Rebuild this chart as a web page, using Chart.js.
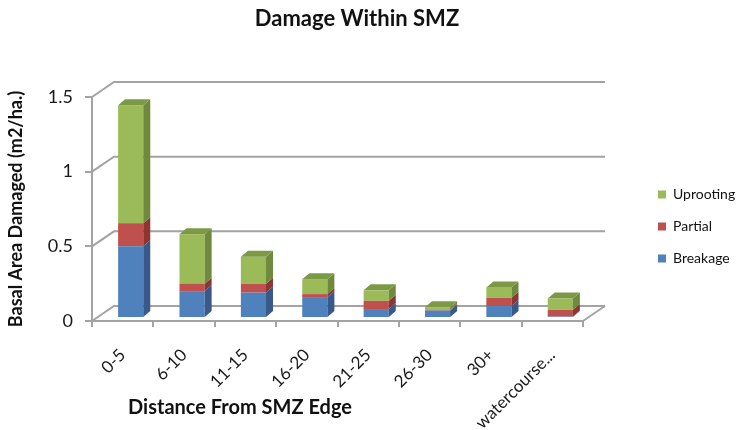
<!DOCTYPE html>
<html>
<head>
<meta charset="utf-8">
<script src="https://cdn.jsdelivr.net/npm/chart.js@4"></script>
<style>
  html, body { margin: 0; padding: 0; background: #fff; }
</style>
</head>
<body>
<canvas id="damageChart" width="740" height="430"></canvas>
<script>
const categories = ['0-5', '6-10', '11-15', '16-20', '21-25', '26-30', '30+', 'watercourse...'];
const breakage = [0.48, 0.18, 0.17, 0.14, 0.06, 0.05, 0.08, 0.01];
const partial = [0.155, 0.05, 0.06, 0.02, 0.055, 0.004, 0.055, 0.045];
const uprooting = [0.79, 0.33, 0.18, 0.10, 0.07, 0.018, 0.07, 0.075];
const yTicks = [0, 0.5, 1, 1.5];

const GRID = '#a3a3a3';
const FONT = 'Lato';
const wallDepth = { x: 22, y: -15 };
const barShift = { x: 8, y: -3 };
const barDepth = { x: 7, y: -6 };
const sideColors = ['#38598a', '#8d3533', '#6f8a3c'];
const topColors = ['#4672a6', '#a64543', '#7c9a45'];

// fake 3D look: walls behind, depth faces on the bars
const bar3d = {
    id: 'bar3d',
    afterLayout(chart) {
        const lg = chart.legend;
        if (!lg) return;
        lg.left = 640;
        lg.right = 740;
        lg.top = 169.5;
        lg.bottom = 430;
    },
    beforeDatasetsDraw(chart) {
        const { ctx, chartArea: a, scales: { y } } = chart;
        ctx.save();
        ctx.strokeStyle = GRID;
        ctx.lineWidth = 2;
        ctx.beginPath();
        yTicks.forEach(v => {
            const py = y.getPixelForValue(v);
            ctx.moveTo(a.left, py);
            ctx.lineTo(a.left + wallDepth.x, py + wallDepth.y);
            ctx.lineTo(a.right + wallDepth.x, py + wallDepth.y);
        });
        const p0 = y.getPixelForValue(0);
        ctx.moveTo(a.right, p0);
        ctx.lineTo(a.right + wallDepth.x, p0 + wallDepth.y);
        ctx.stroke();
        ctx.restore();

        ctx.save();
        ctx.translate(barShift.x, barShift.y);
    },
    afterDatasetsDraw(chart) {
        const ctx = chart.ctx;
        const last = chart.data.datasets.length - 1;
        chart.data.datasets.forEach((ds, i) => {
            const meta = chart.getDatasetMeta(i);
            meta.data.forEach(bar => {
                const { x, y, base, width } = bar.getProps(['x', 'y', 'base', 'width'], true);
                if (Math.abs(base - y) < 0.3) return;
                const l = x - width / 2;
                const r = x + width / 2;
                ctx.fillStyle = sideColors[i];
                ctx.beginPath();
                ctx.moveTo(r, y);
                ctx.lineTo(r + barDepth.x, y + barDepth.y);
                ctx.lineTo(r + barDepth.x, base + barDepth.y);
                ctx.lineTo(r, base);
                ctx.closePath();
                ctx.fill();
                if (i === last) {
                    ctx.fillStyle = topColors[i];
                    ctx.beginPath();
                    ctx.moveTo(l, y);
                    ctx.lineTo(l + barDepth.x, y + barDepth.y);
                    ctx.lineTo(r + barDepth.x, y + barDepth.y);
                    ctx.lineTo(r, y);
                    ctx.closePath();
                    ctx.fill();
                }
            });
        });
        ctx.restore();
    },
    afterDraw(chart) {
        const ctx = chart.ctx;
        ctx.save();
        ctx.fillStyle = '#111';
        ctx.textAlign = 'center';
        ctx.textBaseline = 'alphabetic';
        ctx.font = `bold 22px ${FONT}`;
        ctx.fillText('Damage Within SMZ', 357, 26);
        ctx.font = `bold 20px ${FONT}`;
        ctx.fillText('Distance From SMZ Edge', 240, 414);
        ctx.restore();
    }
};

new Chart(document.getElementById('damageChart'), {
    type: 'bar',
    data: {
        labels: categories,
        datasets: [
            { label: 'Breakage', data: breakage, backgroundColor: '#4f81bd' },
            { label: 'Partial', data: partial, backgroundColor: '#c0504d' },
            { label: 'Uprooting', data: uprooting, backgroundColor: '#9bbb59' }
        ]
    },
    options: {
        responsive: false,
        animation: false,
        barPercentage: 0.41,
        categoryPercentage: 1,
        layout: { padding: { top: 97, right: 97, bottom: 0, left: 0 } },
        plugins: {
            title: { display: false },
            tooltip: { enabled: false },
            legend: {
                position: 'right',
                align: 'start',
                reverse: true,
                maxWidth: 60,
                labels: {
                    boxWidth: 8,
                    boxHeight: 8,
                    padding: 18,
                    color: '#111',
                    font: { family: FONT, size: 14 }
                }
            }
        },
        scales: {
            x: {
                stacked: true,
                grid: { drawOnChartArea: false, color: GRID, lineWidth: 2, tickLength: 6, offset: true },
                border: { color: GRID, width: 2 },
                ticks: {
                    minRotation: 45,
                    maxRotation: 45,
                    padding: 18,
                    color: '#1a1a1a',
                    font: { family: FONT, size: 17 }
                },
                afterFit: s => { s.height = 109; }
            },
            y: {
                stacked: true,
                min: 0,
                max: 1.5,
                ticks: {
                    stepSize: 0.5,
                    padding: 12,
                    color: '#1a1a1a',
                    font: { family: FONT, size: 18 },
                    callback: v => String(v)
                },
                grid: { drawOnChartArea: false, color: GRID, lineWidth: 2, tickLength: 7 },
                border: { color: GRID, width: 2 },
                title: {
                    display: true,
                    text: 'Basal Area Damaged (m2/ha.)',
                    color: '#111',
                    font: { family: FONT, size: 18, weight: 'bold' },
                    padding: { top: 5, bottom: 0 }
                },
                afterFit: s => { s.width = 92; }
            }
        }
    },
    plugins: [bar3d]
});
</script>
</body>
</html>
